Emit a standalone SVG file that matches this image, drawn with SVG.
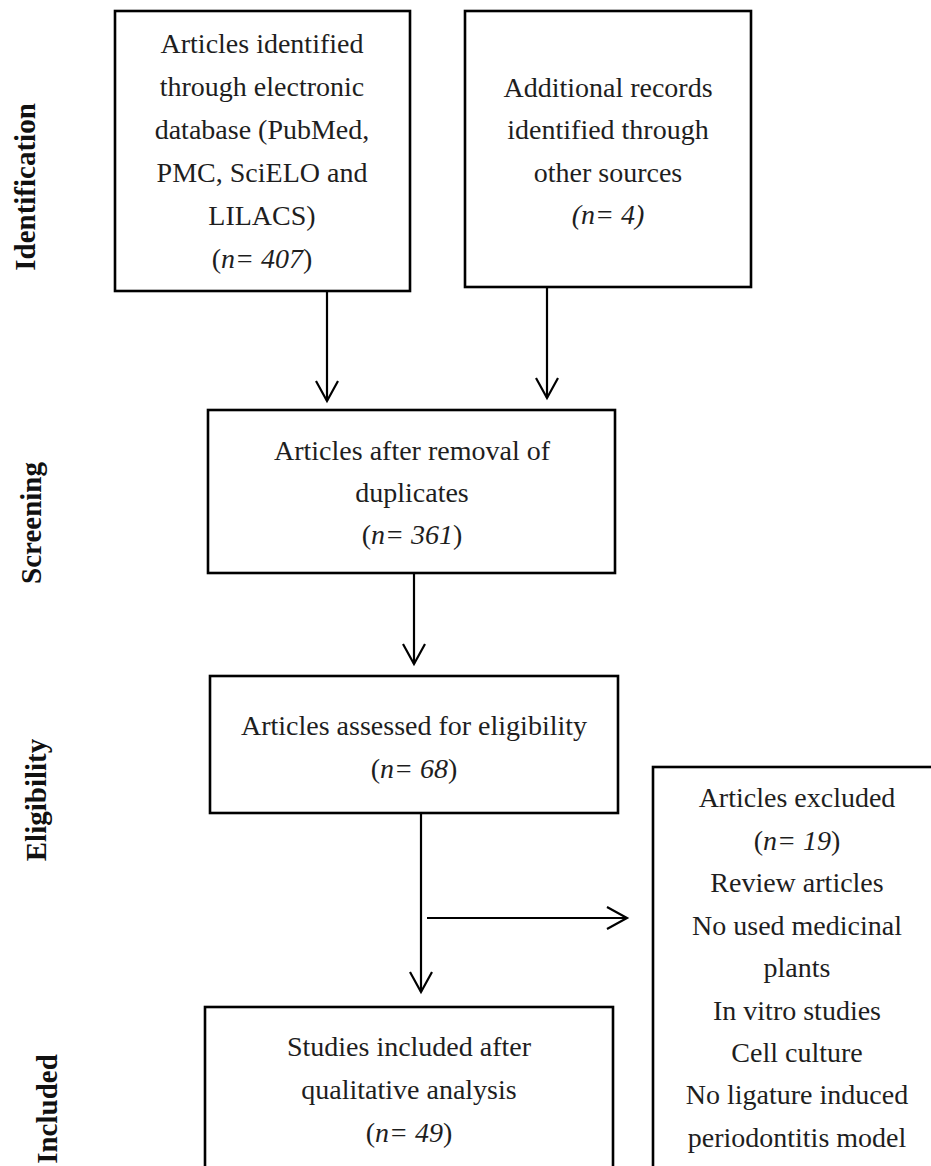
<svg xmlns="http://www.w3.org/2000/svg" width="931" height="1166" viewBox="0 0 931 1166">
<defs>
<style>
.box{fill:#fff;stroke:#000;stroke-width:2.6}
.t{font-family:"Liberation Serif","Times New Roman",serif;font-size:28px;fill:#1e1e1e;text-anchor:middle}
.i{font-style:italic}
.lbl{font-family:"Liberation Serif","Times New Roman",serif;font-size:29px;font-weight:bold;fill:#111;text-anchor:middle}
.c{fill:none;stroke:#000;stroke-width:2.2}
</style>
<marker id="ah" markerUnits="userSpaceOnUse" markerWidth="26" markerHeight="28" viewBox="-23 -14 26 28" refX="0" refY="0" orient="auto">
<path d="M-20,-11 L0,0 L-20,11" fill="none" stroke="#000" stroke-width="2.2"/>
</marker>
</defs>
<rect width="931" height="1166" fill="#fff"/>
<g id="stage-labels">
<text class="lbl" transform="translate(35,187) rotate(-90)">Identification</text>
<text class="lbl" transform="translate(41,523) rotate(-90)">Screening</text>
<text class="lbl" transform="translate(46,800) rotate(-90)">Eligibility</text>
<text class="lbl" transform="translate(57,1109) rotate(-90)">Included</text>
</g>
<g id="connectors">
<line class="c" x1="327" y1="291" x2="327" y2="401" marker-end="url(#ah)"/>
<line class="c" x1="547" y1="288" x2="547" y2="398" marker-end="url(#ah)"/>
<line class="c" x1="414" y1="574" x2="414" y2="664" marker-end="url(#ah)"/>
<line class="c" x1="421" y1="814" x2="421" y2="992" marker-end="url(#ah)"/>
<line class="c" x1="427" y1="918" x2="627" y2="918" marker-end="url(#ah)"/>
</g>
<g id="node-identified">
<rect class="box" x="115" y="11" width="295" height="280"/>
<text class="t" x="262" y="53">Articles identified</text>
<text class="t" x="262" y="96">through electronic</text>
<text class="t" x="262" y="139">database (PubMed,</text>
<text class="t" x="262" y="182">PMC, SciELO and</text>
<text class="t" x="262" y="225">LILACS)</text>
<text class="t" x="262" y="268">(<tspan class="i">n= 407</tspan>)</text>
</g>
<g id="node-additional">
<rect class="box" x="465" y="11" width="286" height="276"/>
<text class="t" x="608" y="97">Additional records</text>
<text class="t" x="608" y="139">identified through</text>
<text class="t" x="608" y="182">other sources</text>
<text class="t i" x="608" y="224">(n= 4)</text>
</g>
<g id="node-screening">
<rect class="box" x="208" y="410" width="407" height="163"/>
<text class="t" x="412" y="460">Articles after removal of</text>
<text class="t" x="412" y="502">duplicates</text>
<text class="t" x="412" y="544">(<tspan class="i">n= 361</tspan>)</text>
</g>
<g id="node-eligibility">
<rect class="box" x="210" y="676" width="408" height="137"/>
<text class="t" x="414" y="735">Articles assessed for eligibility</text>
<text class="t" x="414" y="778">(<tspan class="i">n= 68</tspan>)</text>
</g>
<g id="node-included">
<rect class="box" x="205" y="1007" width="408" height="200"/>
<text class="t" x="409" y="1056">Studies included after</text>
<text class="t" x="409" y="1099">qualitative analysis</text>
<text class="t" x="409" y="1142">(<tspan class="i">n= 49</tspan>)</text>
</g>
<g id="node-excluded">
<rect class="box" x="653" y="767" width="300" height="450"/>
<text class="t" x="797" y="807">Articles excluded</text>
<text class="t" x="797" y="850">(<tspan class="i">n= 19</tspan>)</text>
<text class="t" x="797" y="892">Review articles</text>
<text class="t" x="797" y="935">No used medicinal</text>
<text class="t" x="797" y="977">plants</text>
<text class="t" x="797" y="1020">In vitro studies</text>
<text class="t" x="797" y="1062">Cell culture</text>
<text class="t" x="797" y="1104">No ligature induced</text>
<text class="t" x="797" y="1147">periodontitis model</text>
</g>
</svg>
